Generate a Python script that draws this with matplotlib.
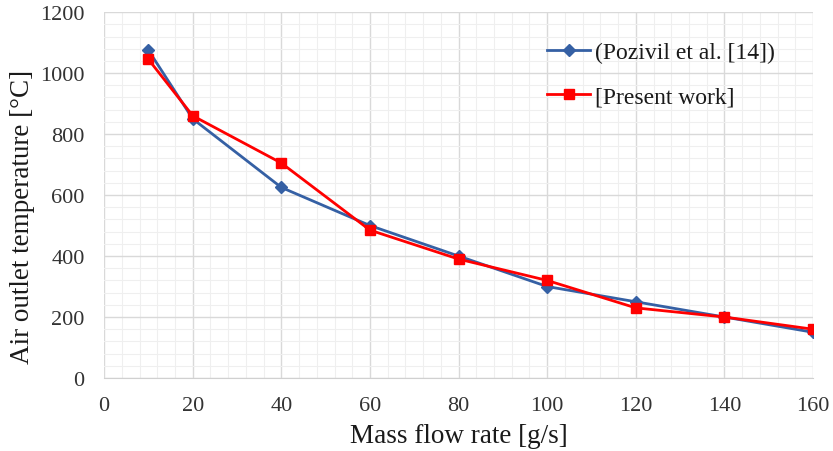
import numpy as np
import matplotlib.pyplot as plt
from matplotlib.ticker import MultipleLocator

plt.rcParams['font.family'] = ['Liberation Serif', 'DejaVu Serif']

# data
mass_flow = [10, 20, 40, 60, 80, 100, 120, 140, 160]
pozivil = [1075, 850, 625, 500, 400, 300, 250, 200, 150]
present = [1045, 860, 705, 485, 390, 320, 230, 200, 160]

fig = plt.figure(figsize=(8.33, 4.52), dpi=100, facecolor='white')
ax = fig.add_axes([0.125, 0.1615, 0.851, 0.8095])

ax.plot(mass_flow, pozivil, color='#3560A4', lw=2.0, marker='D', ms=6.5,
        label='(Pozivil et al. [14])', zorder=3)
ax.plot(mass_flow, present, color='#FF0000', lw=2.0, marker='s', ms=7.5,
        label='[Present work]', zorder=4)

ax.set_xlim(0, 160)
ax.set_ylim(0, 1200)
ax.xaxis.set_major_locator(MultipleLocator(20))
ax.xaxis.set_minor_locator(MultipleLocator(4))
ax.yaxis.set_major_locator(MultipleLocator(200))
ax.yaxis.set_minor_locator(MultipleLocator(40))

ax.grid(which='major', color='#d9d9d9', lw=1.0, zorder=0)
ax.grid(which='minor', color='#efefef', lw=0.8, zorder=0)
ax.set_axisbelow(True)
for s in ['top', 'right', 'left']:
    ax.spines[s].set_visible(False)
ax.spines['bottom'].set_color('#d0d0d0')

ax.tick_params(which='both', length=0)
ax.tick_params(axis='y', labelsize=16, pad=14, colors='#333333')
ax.tick_params(axis='x', labelsize=16, pad=13, colors='#333333')

ax.set_xlabel('Mass flow rate [g/s]', fontsize=19.5, labelpad=6, color='#1a1a1a')
ax.set_ylabel('Air outlet temperature [°C]', fontsize=19.5, color='#1a1a1a')
ax.yaxis.set_label_coords(-0.097, 0.443)

leg = ax.legend(loc='upper left', bbox_to_anchor=(0.612, 0.945), frameon=False,
                fontsize=17, handlelength=1.8, handletextpad=0.2,
                labelspacing=0.95, borderaxespad=0)
for t in leg.get_texts():
    t.set_color('#1a1a1a')

fig.savefig('out.png', dpi=100, facecolor='white')
